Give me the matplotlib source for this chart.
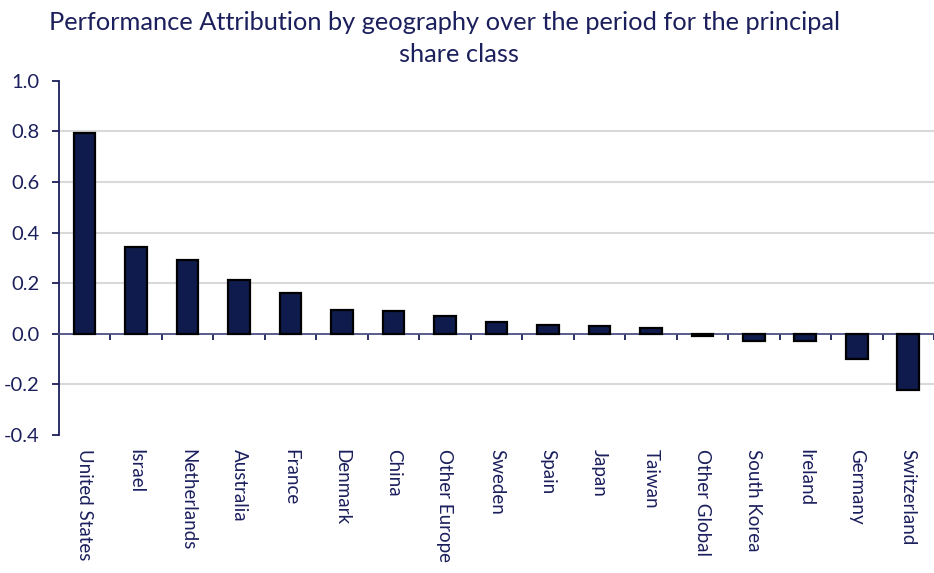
import matplotlib
matplotlib.use("Agg")
import matplotlib.pyplot as plt
import matplotlib.transforms as mtransforms
import numpy as np

plt.rcParams['font.family'] = ['Lato', 'DejaVu Sans']

title_lines = ["Performance Attribution by geography over the period for the principal",
               "share class"]
categories = ["United States", "Israel", "Netherlands", "Australia", "France", "Denmark",
              "China", "Other Europe", "Sweden", "Spain", "Japan", "Taiwan",
              "Other Global", "South Korea", "Ireland", "Germany", "Switzerland"]
values = [0.795, 0.343, 0.293, 0.211, 0.161, 0.095, 0.091, 0.069, 0.048, 0.034,
          0.029, 0.022, -0.010, -0.028, -0.028, -0.100, -0.222]
yticks = [-0.4, -0.2, 0.0, 0.2, 0.4, 0.6, 0.8, 1.0]

navy = "#1b1f5c"
bar_color = "#0f1a4d"

fig = plt.figure(figsize=(9.34, 5.73), dpi=100)
ax = fig.add_axes([0.063, 0.241, 0.937, 0.618])

x = np.arange(len(categories))
ax.bar(x, values, width=0.42, color=bar_color, edgecolor="black", linewidth=1.6, zorder=3)

ax.set_xlim(-0.5, len(categories) - 0.5)
ax.set_ylim(-0.4, 1.0)
ax.set_yticks(yticks)
ax.set_yticklabels([f"{v:.1f}" for v in yticks], fontsize=14.5, color=navy)

for v in yticks:
    if v not in (-0.4, 0.0, 1.0):
        ax.axhline(v, color="#d9d9d9", linewidth=1.5, zorder=1)

for s in ["top", "right"]:
    ax.spines[s].set_visible(False)
ax.spines["left"].set_color(navy)
ax.spines["left"].set_linewidth(1.3)
ax.spines["bottom"].set_position(("data", 0))
ax.spines["bottom"].set_color("#4a5080")
ax.spines["bottom"].set_linewidth(1.3)

ax.tick_params(axis="y", length=5, width=1.3, color=navy, pad=9, direction="out")
ax.set_xticks(np.arange(len(categories)) + 0.5)
ax.set_xticklabels([])
ax.tick_params(axis="x", length=4, width=1.3, color=navy, direction="out")

trans = mtransforms.blended_transform_factory(ax.transData, ax.transAxes)
for xi, lab in zip(x, categories):
    ax.text(xi, -0.04, lab, transform=trans, rotation=-90, ha="center", va="top",
            fontsize=13.5, color=navy)

fig.text(445 / 934, 1 - 22 / 573, title_lines[0], ha="center", va="center",
         fontsize=18.3, color=navy)
fig.text(459 / 934, 1 - 55 / 573, title_lines[1], ha="center", va="center",
         fontsize=18.3, color=navy)

fig.savefig("out.png", dpi=100)
